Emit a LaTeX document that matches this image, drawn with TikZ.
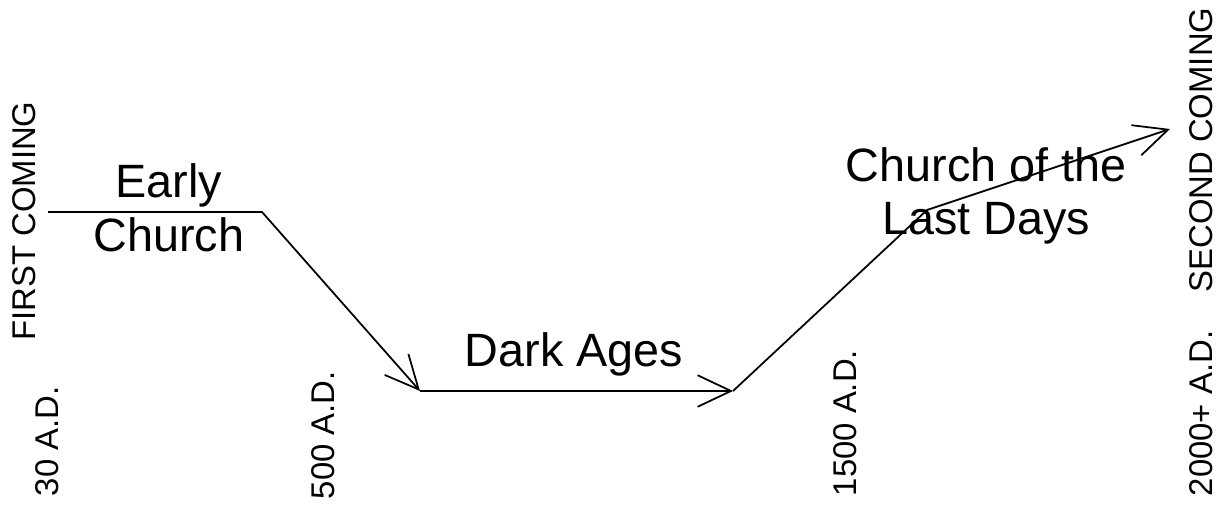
\documentclass[tikz,border=0pt]{standalone}
\usepackage{fontspec}
\setmainfont{Liberation Sans}
\usetikzlibrary{arrows.meta}

\begin{document}
\begin{tikzpicture}[x=0.02cm, y=-0.02cm, line width=1pt, >={Straight Barb[length=19pt,width=18pt]},
	era/.style={align=center, inner sep=0pt, font=\fontsize{26.6}{30.6}\selectfont},
	date/.style={rotate=90, anchor=west, inner sep=0pt, font=\fontsize{18.7}{22}\selectfont}]

\useasboundingbox (0,0) rectangle (1222,506);

\coordinate (start) at (48,212);
\coordinate (fall) at (262,212);
\coordinate (dark) at (420,391);
\coordinate (rise) at (733,391);
\coordinate (bend) at (927,210);
\coordinate (end) at (1170,129);

\draw[->] (start)--(fall)--(dark);
\draw[->] (dark)--(rise);
\draw[->] (rise)--(bend)--(end);

\node[era] (early) at (169,208) {Early\\Church};
\node[era, anchor=base] (darkages) at (574,366) {Dark Ages};
\node[era] (lastdays) at (986,196) {Church of the\\Last Days};

\node[date, anchor=center] (first) at (24,221) {FIRST COMING};
\node[date, anchor=center] (second) at (1201,150) {SECOND COMING};

\node[date] (d30) at (47,497) {30 A.D.};
\node[date] (d500) at (323,500) {500 A.D.};
\node[date] (d1500) at (845,497) {1500 A.D.};
\node[date] (d2000) at (1201,497) {2000+ A.D.};

\end{tikzpicture}
\end{document}
